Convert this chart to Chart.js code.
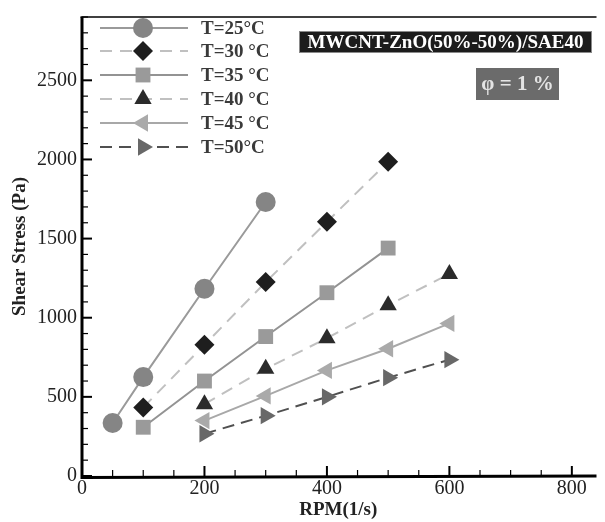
<!DOCTYPE html>
<html><head><meta charset="utf-8">
<script src="https://cdn.jsdelivr.net/npm/chart.js@4/dist/chart.umd.min.js"></script>
<style>html,body{margin:0;padding:0;background:#fff}#wrap{width:605px;height:522px;position:relative}</style>
</head><body><div id="wrap"><canvas id="c"></canvas></div>
<script>
const seriesLabels = ['T=25°C', 'T=30 °C', 'T=35 °C', 'T=40 °C', 'T=45 °C', 'T=50°C'];
const rpm25 = [50, 100, 200, 300];
const stress25 = [335, 625, 1183, 1731];
const rpm30 = [100, 200, 300, 400, 500];
const stress30 = [433, 829, 1225, 1606, 1985];
const rpm35 = [100, 200, 300, 400, 500];
const stress35 = [308, 600, 881, 1158, 1440];
const rpm40 = [200, 300, 400, 500, 600];
const stress40 = [454, 677, 871, 1079, 1277];
const rpm45 = [200, 300, 400, 500, 600];
const stress45 = [350, 506, 667, 804, 964];
const rpm50 = [200, 300, 400, 500, 600];
const stress50 = [267, 381, 500, 621, 735];
const xTicks = [0, 200, 400, 600, 800];
const yTicks = [0, 500, 1000, 1500, 2000, 2500];
const xTitle = 'RPM(1/s)';
const yTitle = 'Shear Stress (Pa)';
const boxTitle = 'MWCNT-ZnO(50%-50%)/SAE40';
const phiText = 'φ = 1 %';

const rpms = [rpm25, rpm30, rpm35, rpm40, rpm45, rpm50];
const stresses = [stress25, stress30, stress35, stress40, stress45, stress50];
const styles = [
  {marker: '#858585', line: '#9a9a9a', dash: [], shape: 'circle', r: 10, rot: 0},
  {marker: '#1e1e1e', line: '#c0c0c0', dash: [12, 8], shape: 'rectRot', r: 10, rot: 0},
  {marker: '#9a9a9a', line: '#939393', dash: [], shape: 'rect', r: 10.5, rot: 0},
  {marker: '#2b2b2b', line: '#c0c0c0', dash: [12, 8], shape: 'triangle', r: 10, rot: 0},
  {marker: '#aaaaaa', line: '#a8a8a8', dash: [], shape: 'triangle', r: 10, rot: -90},
  {marker: '#686868', line: '#505050', dash: [12, 7], shape: 'triangle', r: 10, rot: 90}
];
const SERIF = "'Liberation Serif', 'Times New Roman', serif";

const datasets = seriesLabels.map((lab, i) => ({
  label: lab,
  data: rpms[i].map((x, j) => ({x: x, y: stresses[i][j]})),
  borderColor: styles[i].line,
  borderWidth: 2,
  borderDash: styles[i].dash,
  pointStyle: styles[i].shape,
  pointRotation: styles[i].rot,
  pointRadius: styles[i].r,
  pointHoverRadius: styles[i].r,
  pointBackgroundColor: styles[i].marker,
  pointBorderColor: styles[i].marker,
  pointBorderWidth: 0,
  showLine: true,
  fill: false,
  tension: 0,
  clip: false
}));

const decor = {
  id: 'decor',
  afterDraw(chart) {
    const ctx = chart.ctx;
    const a = chart.chartArea;
    const xs = chart.scales.x, ys = chart.scales.y;
    ctx.save();
    ctx.setLineDash([]);
    ctx.strokeStyle = '#000';
    // minor & major ticks (inward)
    for (let v = 0; v <= xs.max; v += 50) {
      const px = xs.getPixelForValue(v);
      const len = (v % 200 === 0) ? 10 : 6;
      ctx.lineWidth = (v % 200 === 0) ? 2 : 1.2;
      ctx.beginPath(); ctx.moveTo(px, a.bottom); ctx.lineTo(px, a.bottom - len); ctx.stroke();
    }
    for (let v = 0; v <= ys.max; v += 100) {
      const py = ys.getPixelForValue(v);
      const len = (v % 500 === 0) ? 10 : 6;
      ctx.lineWidth = (v % 500 === 0) ? 2 : 1.2;
      ctx.beginPath(); ctx.moveTo(a.left, py); ctx.lineTo(a.left + len, py); ctx.stroke();
    }
    // axes
    ctx.lineWidth = 3;
    ctx.beginPath(); ctx.moveTo(a.left, a.top); ctx.lineTo(a.left, a.bottom + 1.5); ctx.lineTo(a.right + 2, a.bottom); ctx.stroke();
    ctx.lineWidth = 1.6;
    ctx.beginPath(); ctx.moveTo(a.left - 1.5, a.top); ctx.lineTo(a.right + 2, a.top); ctx.stroke();

    // legend
    const rowY = [28, 51, 75, 99, 123, 147];
    const lx0 = 100, lx1 = 188, mx = 143, tx = 201;
    chart.data.datasets.forEach((ds, i) => {
      const y = rowY[i];
      ctx.strokeStyle = ds.borderColor;
      ctx.lineWidth = 2;
      ctx.setLineDash(ds.borderDash || []);
      ctx.beginPath(); ctx.moveTo(lx0, y); ctx.lineTo(lx1, y); ctx.stroke();
      ctx.setLineDash([]);
      ctx.fillStyle = ds.pointBackgroundColor;
      Chart.helpers.drawPoint(ctx, {
        pointStyle: ds.pointStyle, rotation: ds.pointRotation, radius: ds.pointRadius, borderWidth: 0
      }, mx, y);
      ctx.fillStyle = '#3a3a3a';
      ctx.font = 'bold 19px ' + SERIF;
      ctx.textAlign = 'left'; ctx.textBaseline = 'middle';
      ctx.fillText(ds.label, tx, y + 1);
    });

    // title box
    ctx.fillStyle = '#1c1c1c';
    ctx.fillRect(299, 31, 293, 22);
    ctx.strokeStyle = '#8a8a8a'; ctx.lineWidth = 1;
    ctx.strokeRect(299.5, 31.5, 292, 21);
    ctx.fillStyle = '#ffffff';
    ctx.font = 'bold 19px ' + SERIF;
    ctx.textAlign = 'center'; ctx.textBaseline = 'middle';
    ctx.fillText(boxTitle, 445.5, 43);

    // phi box
    ctx.fillStyle = '#6b6b6b';
    ctx.fillRect(476, 68, 83, 32);
    ctx.fillStyle = '#e4e4e4';
    ctx.font = 'bold 21px ' + SERIF;
    ctx.fillText(phiText, 517.5, 85);
    ctx.restore();
  }
};

new Chart(document.getElementById('c'), {
  type: 'scatter',
  data: {datasets: datasets},
  options: {
    responsive: true,
    maintainAspectRatio: false,
    animation: false,
    events: [],
    layout: {padding: {top: 12, left: 0, right: 0, bottom: 0}},
    plugins: {legend: {display: false}, tooltip: {enabled: false}},
    scales: {
      x: {
        type: 'linear', min: 0, max: 837,
        afterBuildTicks: s => { s.ticks = xTicks.map(v => ({value: v})); },
        afterFit: s => { s.height = 46; },
        grid: {display: false, drawTicks: false},
        border: {display: false},
        ticks: {font: {family: SERIF, size: 20}, color: '#222', padding: 1, maxRotation: 0, autoSkip: false, callback: v => String(v)},
        title: {display: true, text: xTitle, font: {family: SERIF, size: 19, weight: 'bold'}, color: '#222', padding: {top: 0, bottom: 1}}
      },
      y: {
        type: 'linear', min: 0, max: 2900,
        afterBuildTicks: s => { s.ticks = yTicks.map(v => ({value: v})); },
        afterFit: s => { s.width = 82; },
        grid: {display: false, drawTicks: false},
        border: {display: false},
        ticks: {font: {family: SERIF, size: 20}, color: '#222', padding: 5, autoSkip: false, callback: v => String(v)},
        title: {display: true, text: yTitle, font: {family: SERIF, size: 19, weight: 'bold'}, color: '#222', padding: {top: 9, bottom: 0}}
      }
    }
  },
  plugins: [decor]
});
</script>
</body></html>
